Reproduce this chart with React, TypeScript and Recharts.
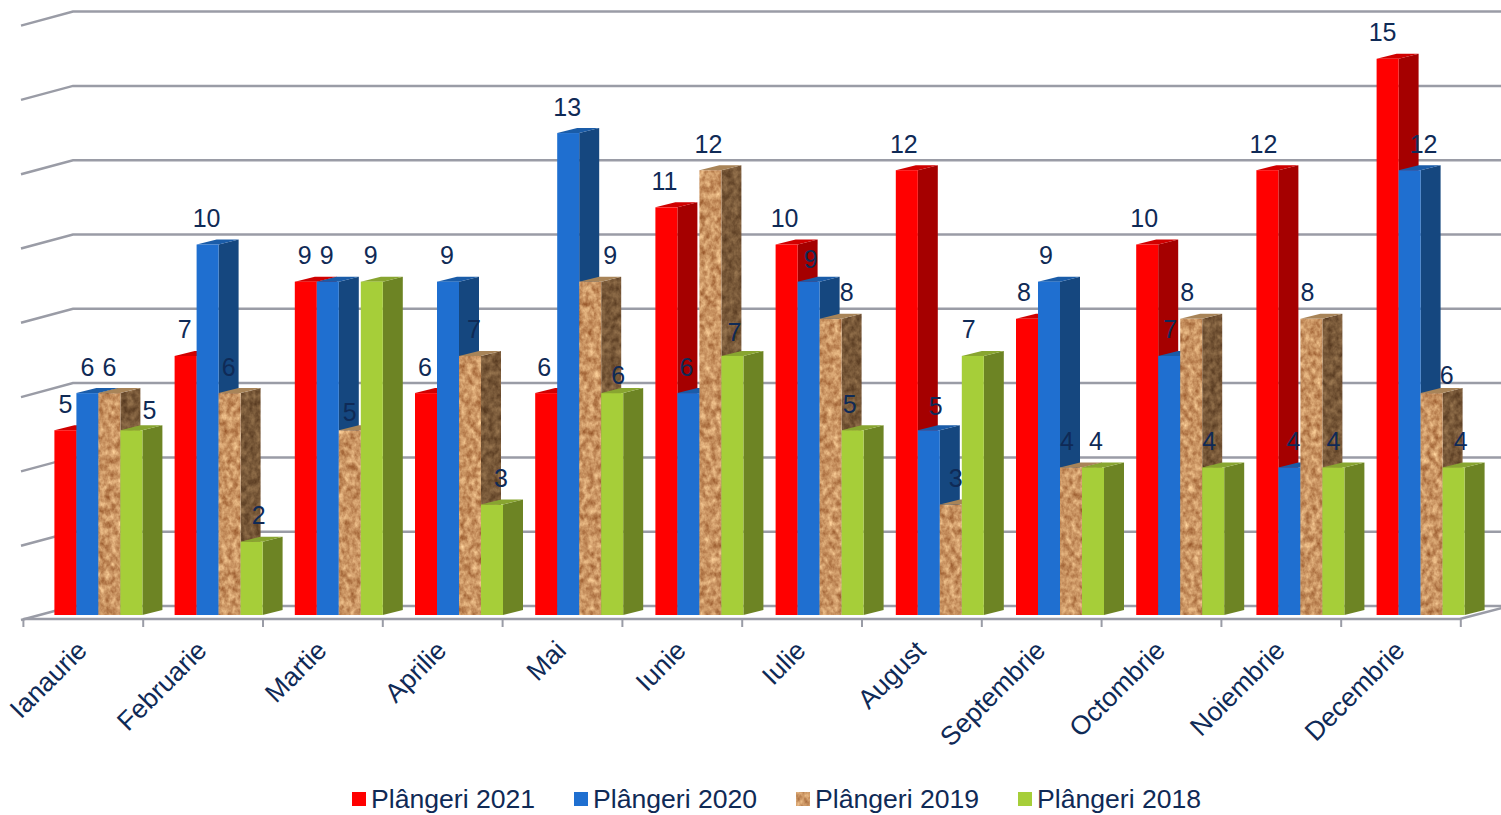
import { BarChart, Bar, XAxis, YAxis, CartesianGrid, Legend, LabelList } from "recharts";

const months = ["Ianaurie", "Februarie", "Martie", "Aprilie", "Mai", "Iunie", "Iulie", "August", "Septembrie", "Octombrie", "Noiembrie", "Decembrie"];
const complaints2021 = [5, 7, 9, 6, 6, 11, 10, 12, 8, 10, 12, 15];
const complaints2020 = [6, 10, 9, 9, 13, 6, 9, 5, 9, 7, 4, 12];
const complaints2019 = [6, 6, 5, 7, 9, 12, 8, 3, 4, 8, 8, 6];
const complaints2018 = [5, 2, 9, 3, 6, 7, 5, 7, 4, 4, 4, 4];
const valueTicks = [0, 2, 4, 6, 8, 10, 12, 14, 16];

// hand placed data labels in the original: [dx, dy] away from the top of each bar
const nudge2021 = [[0, 0], [-1, 0], [-1, 0], [-1, 0], [-2, 0], [-2, 0], [-2, 0], [-3, 0], [-3, 0], [-3, 0], [-4, 0], [-5, 0]];
const nudge2020 = [[0, 0], [-1, 0], [-1, 0], [-1, 0], [-1, 0], [-2, 0], [2, 4], [7, 2], [-3, 0], [1, 0], [4, 0], [14, 0]];
const nudge2019 = [[0, 0], [-1, 0], [0, 8], [4, 0], [20, 0], [-2, 0], [16, 0], [5, 0], [-4, 0], [-4, 0], [-4, 0], [15, 8]];
const nudge2018 = [[18, 6], [7, 0], [-1, 0], [9, 0], [6, 8], [2, 3], [-3, 0], [-4, 0], [3, 0], [-4, 0], [0, 0], [7, 0]];

const rows = months.map((month, i) => ({
  month,
  p2021: complaints2021[i],
  p2020: complaints2020[i],
  p2019: complaints2019[i],
  p2018: complaints2018[i],
}));

const FONT = "'Liberation Sans', Arial, sans-serif";
const INK = "#0f2a56";
const GRID = "#9a9ca6";
const DEPTH_X = 20;
const DEPTH_Y = 5;
const BAND = 120.2;
const BASE_Y = 616;

// bar drawn as a little box, the way the old 3D column charts look
function box(sideFill: string, topFill: string, frontFilter?: string, sideFilter?: string) {
  return (props: any) => {
    const { x, y, width, fill } = props;
    const height = props.height - 1;
    const top = `${x},${y} ${x + width},${y} ${x + width + DEPTH_X},${y - DEPTH_Y} ${x + DEPTH_X},${y - DEPTH_Y}`;
    const side = `${x + width},${y} ${x + width + DEPTH_X},${y - DEPTH_Y} ${x + width + DEPTH_X},${y + height - DEPTH_Y} ${x + width},${y + height}`;
    return (
      <g>
        <polygon points={side} fill={sideFill} filter={sideFilter} />
        <polygon points={top} fill={topFill} />
        <rect x={x} y={y} width={width} height={height} fill={fill} filter={frontFilter} />
      </g>
    );
  };
}

function dataLabel(nudges: number[][]) {
  return (props: any) => {
    const { x, y, width, value, index } = props;
    const [dx, dy] = nudges[index];
    return (
      <text x={x + width / 2 + dx} y={y - 26.5 + dy} dy="0.36em" textAnchor="middle" fontFamily={FONT} fontSize={25} fill={INK}>
        {value}
      </text>
    );
  };
}

// back wall line plus the short slanted piece on the left wall
function wallLine(props: any) {
  const { x1, x2, y1 } = props;
  const backY = y1 - 10;
  return (
    <g key={`wall-${y1}`}>
      <polyline points={`${x1 - 17.4},${y1 + 4} ${x1 + 34.6},${backY} ${x2 + 21},${backY}`} fill="none" stroke={GRID} strokeWidth={2.5} />
      {Math.abs(y1 - BASE_Y) < 1 && (
        <polyline points={`${x1 - 15},${y1 + 3} ${x2 - 21},${y1 + 3} ${x2 + 21},${y1 - 8}`} fill="none" stroke={GRID} strokeWidth={2.5} />
      )}
    </g>
  );
}

function MonthTick({ x, y, payload, index }: any) {
  const drift = -0.4 * index;
  const left = x - BAND / 2 - 15 + drift;
  return (
    <g>
      <line x1={left} x2={left} y1={y + 3} y2={y + 11} stroke={GRID} strokeWidth={2} />
      {index === months.length - 1 && (
        <line x1={left + 119.6} x2={left + 119.6} y1={y + 3} y2={y + 11} stroke={GRID} strokeWidth={2} />
      )}
      <text
        transform={`translate(${x - 10 + drift},${y + 36}) rotate(-45)`}
        textAnchor="end"
        fontFamily={FONT}
        fontSize={26.5}
        fill={INK}
      >
        {payload.value}
      </text>
    </g>
  );
}

function LegendRow({ payload }: any) {
  return (
    <div style={{ display: "flex", fontFamily: FONT, fontSize: 26.6, color: INK, lineHeight: "30px" }}>
      {(payload || []).map((item: any) => (
        <div key={item.value} style={{ width: 222, display: "flex", alignItems: "center", whiteSpace: "nowrap" }}>
          <svg width={14} height={14} style={{ marginRight: 5 }}>
            <rect width={14} height={14} fill={item.color} filter={item.value.includes("2019") ? "url(#cork)" : undefined} />
          </svg>
          {item.value}
        </div>
      ))}
    </div>
  );
}

export default function App() {
  return (
    <div style={{ position: "absolute", left: 0, top: 0, width: 1501, height: 815, background: "#fff" }}>
      <BarChart
        width={1501}
        height={815}
        data={rows}
        margin={{ top: 21.6, right: 20.2, bottom: 99, left: 38.4 }}
        barSize={22}
        barGap={0}
      >
        <defs>
          <filter id="cork" x="0" y="0" width="100%" height="100%" colorInterpolationFilters="sRGB">
            <feTurbulence type="fractalNoise" baseFrequency="0.18 0.14" numOctaves={3} seed={7} />
            <feColorMatrix values="0.5 0 0 0 0.54  0.6 0 0 0 0.28  0.55 0 0 0 0.11  0 0 0 0 1" />
            <feComposite in2="SourceGraphic" operator="in" />
          </filter>
          <filter id="corkSide" x="0" y="0" width="100%" height="100%" colorInterpolationFilters="sRGB">
            <feTurbulence type="fractalNoise" baseFrequency="0.18 0.14" numOctaves={3} seed={11} />
            <feColorMatrix values="0.36 0 0 0 0.29  0.33 0 0 0 0.18  0.26 0 0 0 0.09  0 0 0 0 1" />
            <feComposite in2="SourceGraphic" operator="in" />
          </filter>
        </defs>
        <CartesianGrid vertical={false} horizontal={wallLine} />
        <XAxis dataKey="month" height={100} interval={0} axisLine={false} tickLine={false} tickSize={0} tickMargin={0} tick={<MonthTick />} />
        <YAxis type="number" domain={[0, 16]} ticks={valueTicks} hide />
        <Legend
          layout="horizontal"
          align="center"
          verticalAlign="middle"
          itemSorter={null}
          content={<LegendRow />}
          wrapperStyle={{ left: 352, top: 784, width: 900 }}
        />
        <Bar dataKey="p2021" name="Plângeri 2021" fill="#ff0000" shape={box("#a50000", "#d00000")} isAnimationActive={false}>
          <LabelList dataKey="p2021" content={dataLabel(nudge2021)} />
        </Bar>
        <Bar dataKey="p2020" name="Plângeri 2020" fill="#1f6fd0" shape={box("#15477f", "#1a5ca8")} isAnimationActive={false}>
          <LabelList dataKey="p2020" content={dataLabel(nudge2020)} />
        </Bar>
        <Bar dataKey="p2019" name="Plângeri 2019" fill="#c8935f" shape={box("#70502f", "#a88458", "url(#cork)", "url(#corkSide)")} isAnimationActive={false}>
          <LabelList dataKey="p2019" content={dataLabel(nudge2019)} />
        </Bar>
        <Bar dataKey="p2018" name="Plângeri 2018" fill="#a6ce39" shape={box("#6d8424", "#88a530")} isAnimationActive={false}>
          <LabelList dataKey="p2018" content={dataLabel(nudge2018)} />
        </Bar>
      </BarChart>
    </div>
  );
}
